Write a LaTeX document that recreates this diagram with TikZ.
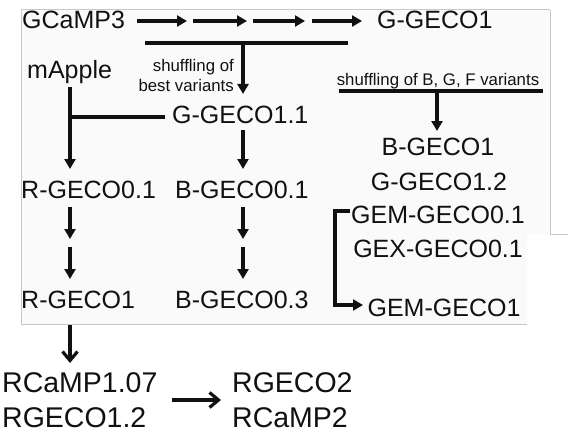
\documentclass[tikz,border=0pt]{standalone}
\usepackage{fontspec}
\setmainfont{Liberation Sans}
\usetikzlibrary{arrows.meta}
\definecolor{panelbg}{HTML}{FAFAFA}
\definecolor{panelline}{HTML}{C8C8C8}
\definecolor{ink}{HTML}{111111}
\begin{document}
\begin{tikzpicture}[x=1pt,y=-1pt,
  lab/.style={font=\fontsize{25}{25}\selectfont, inner sep=0pt, anchor=base west, text=ink},
  labc/.style={font=\fontsize{25}{25}\selectfont, inner sep=0pt, anchor=base, text=ink},
  big/.style={font=\fontsize{28.5}{28.5}\selectfont, inner sep=0pt, anchor=base west, text=ink},
  small/.style={font=\fontsize{16.8}{20}\selectfont, inner sep=0pt, text=ink},
  arr/.style={line width=3.4pt, draw=ink, -{Triangle[length=10pt,width=11pt]}},
  bar/.style={line width=3.4pt, draw=ink},
  oarr/.style={line width=3.2pt, draw=ink, -{Straight Barb[length=9pt,width=15pt,line width=3.2pt]}},
  frame/.style={draw=panelline, line width=1pt}
]
\useasboundingbox (0,0) rectangle (568,436);
\fill[panelbg] (21,10) -- (550,10) -- (550,234) -- (527,234) -- (527,324) -- (21,324) -- cycle;
\draw[frame] (550,10) -- (21,10) -- (21,324) -- (527,324);
\draw[frame] (550,10) -- (550,234) -- (568,234);

% labels
\node[lab] (gcamp) at (22,29) {GCaMP3};
\node[lab] (ggeco1) at (377,29) {G-GECO1};
\node[lab] (mapple) at (27,78) {mApple};
\node[lab] (ggeco11) at (172,124) {G-GECO1.1};
\node[lab] (rgeco01) at (21,198) {R-GECO0.1};
\node[lab] (bgeco01) at (175,198) {B-GECO0.1};
\node[lab] (rgeco1) at (21,308) {R-GECO1};
\node[lab] (bgeco03) at (175,308) {B-GECO0.3};
\node[labc] (bgeco1) at (438,155) {B-GECO1};
\node[labc] (ggeco12) at (439,190) {G-GECO1.2};
\node[labc] (gem01) at (438,223) {GEM-GECO0.1};
\node[labc] (gex01) at (438,257) {GEX-GECO0.1};
\node[labc] (gem1) at (444,316) {GEM-GECO1};
\node[big] (rcamp107) at (2,392) {RCaMP1.07};
\node[big] (rgeco12) at (2,427) {RGECO1.2};
\node[big] (rgeco2) at (232,392) {RGECO2};
\node[big] (rcamp2) at (232,427) {RCaMP2};
\node[small, anchor=east, align=right] (shuf1) at (234,75) {shuffling of\\best variants};
\node[small, anchor=base] (shuf2) at (438,85) {shuffling of B, G, F variants};

% top chain
\coordinate (a1) at (137,21); \coordinate (a2) at (187,21);
\coordinate (a3) at (193,21); \coordinate (a4) at (247,21);
\coordinate (a5) at (253,21); \coordinate (a6) at (305,21);
\coordinate (a7) at (312,21); \coordinate (a8) at (362,21);
\draw[arr] (a1) -- (a2);
\draw[arr] (a3) -- (a4);
\draw[arr] (a5) -- (a6);
\draw[arr] (a7) -- (a8);

% shuffling of best variants
\coordinate (b1) at (145,43); \coordinate (b2) at (348,43);
\draw[bar] (b1) -- (b2);
\coordinate (b3) at (243,43); \coordinate (b4) at (243,94);
\draw[arr] (b3) -- (b4);

% mApple branch
\coordinate (m1) at (70,87); \coordinate (m2) at (70,169);
\coordinate (m3) at (70,117); \coordinate (m4) at (165,117);
\draw[arr] (m1) -- (m2);
\draw[bar] (m3) -- (m4);

% G-GECO1.1 -> B-GECO0.1
\coordinate (g1) at (243,130); \coordinate (g2) at (243,169);
\draw[arr] (g1) -- (g2);

% R column
\coordinate (r1) at (70,207); \coordinate (r2) at (70,239);
\coordinate (r3) at (70,247); \coordinate (r4) at (70,279);
\draw[arr] (r1) -- (r2);
\draw[arr] (r3) -- (r4);
% B column
\coordinate (s1) at (243,207); \coordinate (s2) at (243,239);
\coordinate (s3) at (243,247); \coordinate (s4) at (243,279);
\draw[arr] (s1) -- (s2);
\draw[arr] (s3) -- (s4);

% right bar
\coordinate (c1) at (339,91); \coordinate (c2) at (543,91);
\draw[bar] (c1) -- (c2);
\coordinate (c3) at (437,91); \coordinate (c4) at (437,131);
\draw[arr] (c3) -- (c4);

% bracket
\coordinate (k1) at (350,211); \coordinate (k2) at (335,211);
\coordinate (k3) at (335,305); \coordinate (k4) at (363,305);
\draw[arr] (k1) -- (k2) -- (k3) -- (k4);

% bottom
\coordinate (d1) at (70,325); \coordinate (d2) at (70,363);
\draw[oarr] (d1) -- (d2);
\coordinate (e1) at (172,400); \coordinate (e2) at (221,400);
\draw[oarr] (e1) -- (e2);
\end{tikzpicture}
\end{document}
